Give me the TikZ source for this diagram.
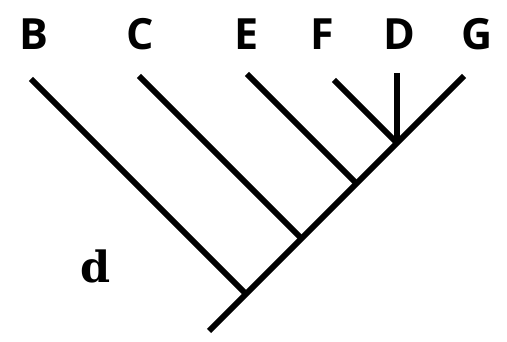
\documentclass[tikz,border=0pt]{standalone}
\usepackage{fontspec}
\setmainfont{Open Sans}
\newfontfamily\slabfont{DejaVu Serif}
\tikzset{
  branch/.style={draw=black, line width=6pt},
  taxon/.style={font=\bfseries\fontsize{43}{43}\selectfont, inner sep=0pt, anchor=base},
  clade/.style={font=\slabfont\bfseries\fontsize{43}{43}\selectfont, inner sep=0pt, anchor=base}
}

\begin{document}
\begin{tikzpicture}[x=1pt, y=-1pt]
  \useasboundingbox (0,0) rectangle (507,342);

  % tips and junctions
  \coordinate (root) at (209,331);
  \coordinate (tipB) at (31,79);
  \coordinate (tipC) at (139,76);
  \coordinate (tipE) at (247,74);
  \coordinate (tipF) at (334,80);
  \coordinate (tipD) at (397,73);
  \coordinate (tipG) at (464,76);
  \coordinate (nB) at (246,294);
  \coordinate (nC) at (301.5,238.5);
  \coordinate (nE) at (356.5,183.5);
  \coordinate (nD) at (397,143);

  % backbone and side branches
  \draw[branch] (root) -- (tipG);
  \draw[branch] (tipB) -- (nB);
  \draw[branch] (tipC) -- (nC);
  \draw[branch] (tipE) -- (nE);
  \draw[branch] (tipF) -- (nD);
  \draw[branch] (tipD) -- (nD);

  % taxon names
  \node[taxon] (lB) at (34,50) {B};
  \node[taxon] (lC) at (140,50) {C};
  \node[taxon] (lE) at (247,50) {E};
  \node[taxon] (lF) at (322,50) {F};
  \node[taxon] (lD) at (399,50) {D};
  \node[taxon] (lG) at (477,50) {G};

  \node[clade] (ld) at (96,283) {d};
\end{tikzpicture}
\end{document}
